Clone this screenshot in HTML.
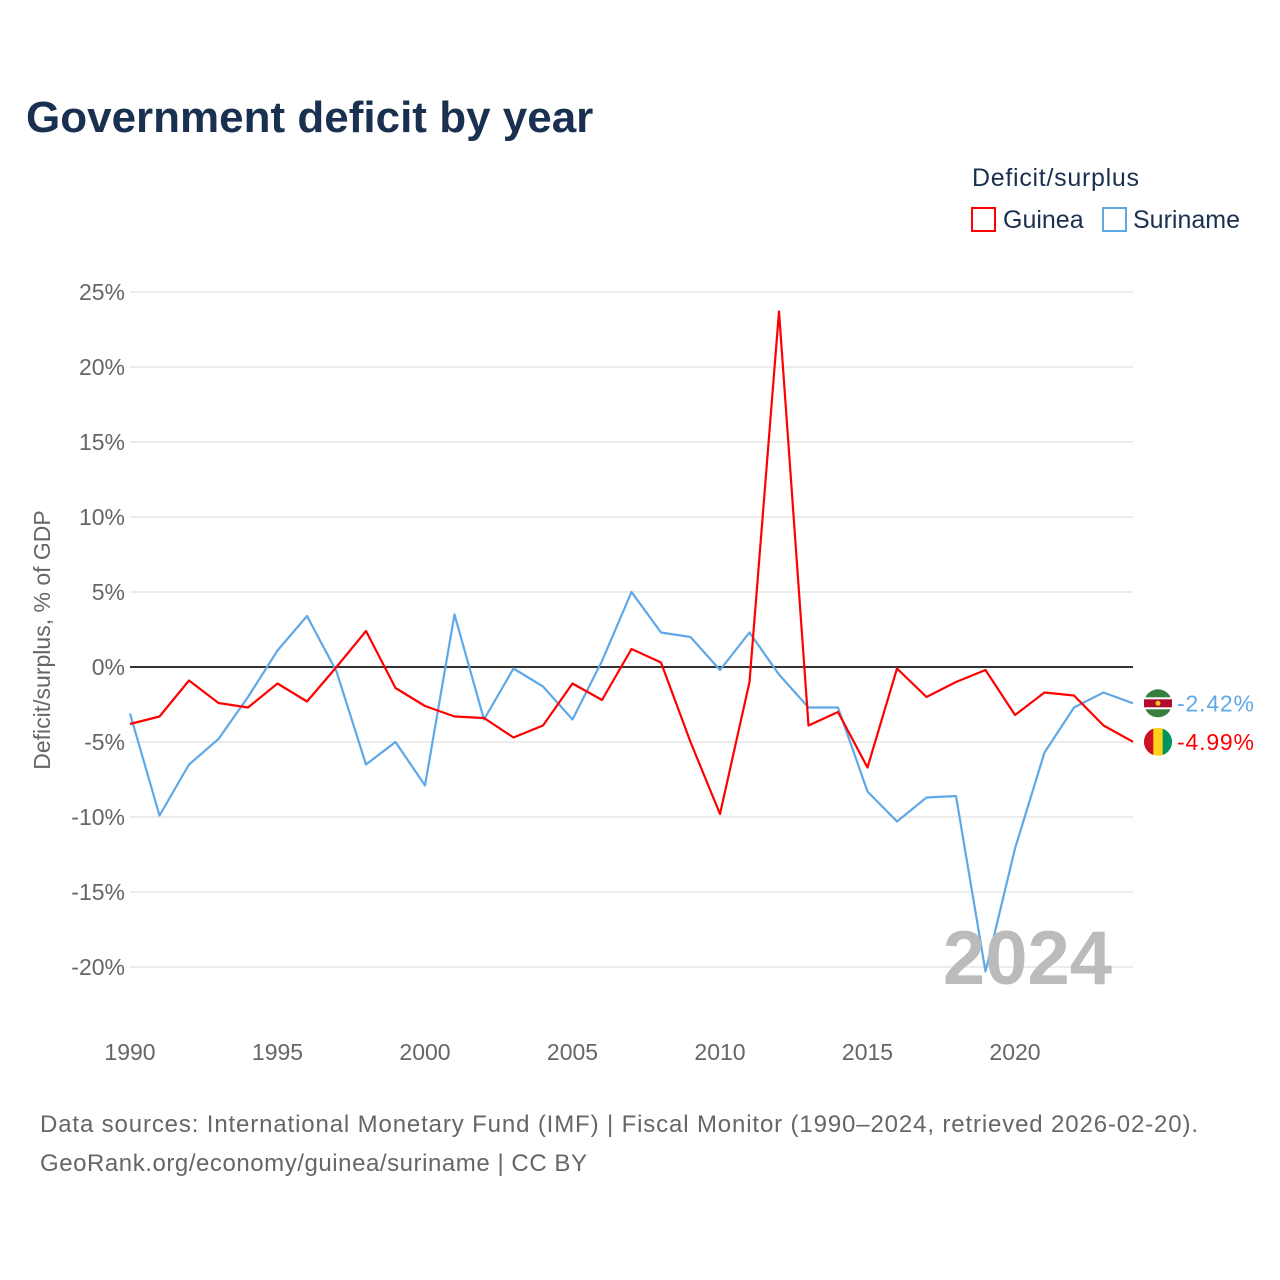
<!DOCTYPE html>
<html><head><meta charset="utf-8"><style>
body{margin:0;background:#fff;font-family:"Liberation Sans",sans-serif}
</style></head><body>
<svg id="c" width="1280" height="1280" viewBox="0 0 1280 1280" style="display:block">
<text x="26" y="132" font-size="44" font-weight="bold" fill="#1a3050">Government deficit by year</text>
<text x="972" y="186" font-size="25" fill="#1a3050" textLength="167">Deficit/surplus</text>
<g><rect x="972" y="208" width="23" height="23" fill="none" stroke="#ff0000" stroke-width="2"/><text x="1003" y="228" font-size="25" fill="#1a3050">Guinea</text></g>
<g><rect x="1103" y="208" width="23" height="23" fill="none" stroke="#5fa8e8" stroke-width="2"/><text x="1133" y="228" font-size="25" fill="#1a3050">Suriname</text></g>
<text transform="translate(50,640) rotate(-90)" text-anchor="middle" font-size="23" fill="#666">Deficit/surplus, % of GDP</text>
<g id="grid"></g><g id="series"></g>
<text x="1112" y="984" text-anchor="end" font-size="76" font-weight="bold" fill="#bbb">2024</text>
<text x="40" y="1132" font-size="24" fill="#666" textLength="1158">Data sources: International Monetary Fund (IMF) | Fiscal Monitor (1990–2024, retrieved 2026-02-20).</text>
<text x="40" y="1171" font-size="24" fill="#666" textLength="547">GeoRank.org/economy/guinea/suriname | CC BY</text>
</svg>
<script>
const years=[];for(let y=1990;y<=2024;y++)years.push(y);
const guinea=[-3.8,-3.3,-0.9,-2.4,-2.7,-1.1,-2.3,0,2.4,-1.4,-2.6,-3.3,-3.4,-4.7,-3.9,-1.1,-2.2,1.2,0.3,-5,-9.8,-1,23.7,-3.9,-3,-6.7,-0.1,-2,-1,-0.2,-3.2,-1.7,-1.9,-3.9,-4.99];
const suriname=[-3.1,-9.9,-6.5,-4.8,-2,1.1,3.4,-0.3,-6.5,-5,-7.9,3.5,-3.5,-0.1,-1.3,-3.5,0.4,5,2.3,2,-0.2,2.3,-0.5,-2.7,-2.7,-8.3,-10.3,-8.7,-8.6,-20.3,-12.1,-5.7,-2.7,-1.7,-2.42];
const yTicks=[25,20,15,10,5,0,-5,-10,-15,-20];
const xTicks=[1990,1995,2000,2005,2010,2015,2020];
const X=y=>130+(y-1990)*29.5, Y=v=>667-v*15;
const NS="http://www.w3.org/2000/svg";
function mk(t,a,p){const e=document.createElementNS(NS,t);for(const k in a)e.setAttribute(k,a[k]);p.appendChild(e);return e;}
const g=document.getElementById('grid'),s=document.getElementById('series');
yTicks.forEach(v=>{
 const l=mk('line',{x1:130,x2:1133,y1:Y(v),y2:Y(v),stroke:v===0?'#333':'#e6e6e6','stroke-width':v===0?2:1.5},g);
 
 
 const t=mk('text',{x:125,y:Y(v)+8,'text-anchor':'end','font-size':23,fill:'#666'},g);t.textContent=v+'%';
 
 
});
xTicks.forEach(v=>{
 const t=mk('text',{x:X(v),y:1060,'text-anchor':'middle','font-size':23,fill:'#666'},g);t.textContent=v;
 
 
});
function line(d,c,name){
 const p=mk('polyline',{points:d.map((v,i)=>X(years[i])+','+Y(v)).join(' '),fill:'none',stroke:c,'stroke-width':2.2,'stroke-linejoin':'round'},s);
 
 
}
line(suriname,'#5fa8e8','suriname-line');
line(guinea,'#ff0000','guinea-line');
function endLabel(v,c,name,flag){
 const y=Y(v);
 const gg=mk('g',{},s);
 
 
 if(flag==='sr'){
  mk('circle',{cx:1158,cy:y,r:14,fill:'#377e3f'},gg);
  mk('rect',{x:1144,y:y-6,width:28,height:12,fill:'#fff'},gg);
  mk('rect',{x:1144,y:y-4,width:28,height:8,fill:'#b40a2d'},gg);
  mk('circle',{cx:1158,cy:y,r:2.5,fill:'#ecc81d'},gg);
 }else{
  mk('circle',{cx:1158,cy:y,r:14,fill:'#fcd116'},gg);
  mk('path',{d:`M1153.3 ${y-13.2} A14 14 0 0 0 1153.3 ${y+13.2} Z`,fill:'#ce1126'},gg);
  mk('path',{d:`M1162.7 ${y-13.2} A14 14 0 0 1 1162.7 ${y+13.2} Z`,fill:'#009460'},gg);
 }
 const t=mk('text',{x:1177,y:y+8,'font-size':23,fill:c,textLength:77},gg);t.textContent=v.toFixed(2)+'%';
}
endLabel(suriname[suriname.length-1],'#5fa8e8','suriname-end-label','sr');
endLabel(guinea[guinea.length-1],'#ff0000','guinea-end-label','gn');
</script>
</body></html>
